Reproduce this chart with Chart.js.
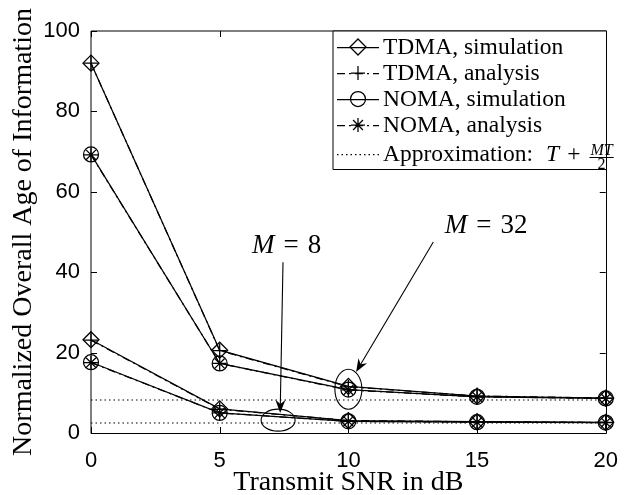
<!DOCTYPE html>
<html><head><meta charset="utf-8">
<script src="https://cdn.jsdelivr.net/npm/chart.js@4"></script>
<style>html,body{margin:0;padding:0;background:#fff}#wrap{width:633px;height:495px}</style>
</head><body><div id="wrap"><canvas id="c" width="633" height="495"></canvas></div>
<script>
// ---- data ----
const snrDb = [0, 5, 10, 15, 20];
const tdmaSimM32 = [92.0, 20.6, 11.6, 9.2, 8.7];
const tdmaAnaM32 = [92.0, 20.5, 11.5, 9.2, 8.7];
const nomaSimM32 = [69.3, 17.3, 10.8, 9.0, 8.6];
const nomaAnaM32 = [69.2, 17.3, 10.7, 9.0, 8.6];
const tdmaSimM8 = [23.2, 6.0, 3.1, 2.8, 2.65];
const tdmaAnaM8 = [23.1, 5.9, 3.1, 2.8, 2.65];
const nomaSimM8 = [17.6, 5.0, 2.9, 2.7, 2.6];
const nomaAnaM8 = [17.5, 5.0, 2.9, 2.7, 2.6];
const approxM32 = [8.2, 8.2, 8.2, 8.2, 8.2];
const approxM8 = [2.5, 2.5, 2.5, 2.5, 2.5];
const xTickValues = [0, 5, 10, 15, 20];
const yTickValues = [0, 20, 40, 60, 80, 100];
const legendLabels = ['TDMA, simulation', 'TDMA, analysis', 'NOMA, simulation', 'NOMA, analysis', 'Approximation:'];
const annotationLabels = [{m: 'M', rest: '8'}, {m: 'M', rest: '32'}];

const pts = arr => arr.map((v, i) => ({x: snrDb[i], y: v}));
const SERIF = '"Liberation Serif", "Times New Roman", serif';
const SANS = '"Liberation Sans", Arial, Helvetica, sans-serif';
const LW = 1.25;

function ds(label, arr, style, r, dash) {
  return {
    label, data: pts(arr), borderColor: '#000', borderWidth: style === false ? 1.1 : LW, borderDash: dash || [],
    pointStyle: style, pointRadius: style ? r : 0, pointBorderColor: '#000', pointBorderWidth: LW,
    pointBackgroundColor: 'rgba(0,0,0,0)', pointHoverRadius: r, fill: false, tension: 0, clip: false
  };
}
const dashDot = [8, 4, 2, 4];
const dotted = [1.5, 3];
const datasets = [
  ds('TDMA, simulation', tdmaSimM32, 'rectRot', 8),
  ds('TDMA, analysis', tdmaAnaM32, 'cross', 7, dashDot),
  ds('NOMA, simulation', nomaSimM32, 'circle', 7.5),
  ds('NOMA, analysis', nomaAnaM32, 'star', 7, dashDot),
  ds('TDMA, simulation', tdmaSimM8, 'rectRot', 8),
  ds('TDMA, analysis', tdmaAnaM8, 'cross', 7, dashDot),
  ds('NOMA, simulation', nomaSimM8, 'circle', 7.5),
  ds('NOMA, analysis', nomaAnaM8, 'star', 7, dashDot),
  ds('Approximation M=32', approxM32, false, 0, dotted),
  ds('Approximation M=8', approxM8, false, 0, dotted)
];

function marker(ctx, style, x, y, r) {
  ctx.save(); ctx.strokeStyle = '#000'; ctx.lineWidth = LW; ctx.setLineDash([]);
  ctx.beginPath();
  if (style === 'rectRot') { ctx.moveTo(x - r, y); ctx.lineTo(x, y - r); ctx.lineTo(x + r, y); ctx.lineTo(x, y + r); ctx.closePath(); }
  else if (style === 'circle') { ctx.arc(x, y, r, 0, 2 * Math.PI); }
  else if (style === 'cross') { ctx.moveTo(x - r, y); ctx.lineTo(x + r, y); ctx.moveTo(x, y - r); ctx.lineTo(x, y + r); }
  else if (style === 'star') {
    for (let k = 0; k < 4; k++) { const a = k * Math.PI / 4; ctx.moveTo(x - r * Math.cos(a), y - r * Math.sin(a)); ctx.lineTo(x + r * Math.cos(a), y + r * Math.sin(a)); }
  }
  ctx.stroke(); ctx.restore();
}

function arrow(ctx, x1, y1, x2, y2) {
  ctx.save(); ctx.strokeStyle = '#000'; ctx.fillStyle = '#000'; ctx.lineWidth = 1.1;
  const a = Math.atan2(y2 - y1, x2 - x1), L = 13, W = 5, N = 9;
  const bx = x2 - N * Math.cos(a), by = y2 - N * Math.sin(a);
  ctx.beginPath(); ctx.moveTo(x1, y1); ctx.lineTo(bx, by); ctx.stroke();
  const px = -Math.sin(a), py = Math.cos(a);
  const cx = x2 - L * Math.cos(a), cy = y2 - L * Math.sin(a);
  ctx.beginPath(); ctx.moveTo(x2, y2); ctx.lineTo(cx + W * px, cy + W * py); ctx.lineTo(bx, by); ctx.lineTo(cx - W * px, cy - W * py); ctx.closePath(); ctx.fill();
  ctx.restore();
}

function mathLabel(ctx, lab, cx, cy) {
  ctx.save(); ctx.fillStyle = '#000'; ctx.textBaseline = 'middle';
  const fi = 'italic 27px ' + SERIF, fr = '27px ' + SERIF;
  ctx.font = fi; const wM = ctx.measureText(lab.m).width;
  ctx.font = fr; const wEq = ctx.measureText('=').width, wR = ctx.measureText(lab.rest).width;
  const g = 9, total = wM + g + wEq + g + wR;
  let x = cx - total / 2;
  ctx.textAlign = 'left';
  ctx.font = fi; ctx.fillText(lab.m, x, cy); x += wM + g;
  ctx.font = fr; ctx.fillText('=', x, cy); x += wEq + g;
  ctx.fillText(lab.rest, x, cy);
  ctx.restore();
}

const decor = {
  id: 'decor',
  afterDraw(chart) {
    const ctx = chart.ctx, a = chart.chartArea, xs = chart.scales.x, ys = chart.scales.y;
    ctx.save();
    ctx.strokeStyle = '#000'; ctx.lineWidth = 1; ctx.setLineDash([]);
    // box (top/left soft, right/bottom crisp)
    ctx.beginPath();
    ctx.moveTo(Math.round(a.left), Math.round(a.bottom) + 0.5);
    ctx.lineTo(Math.round(a.left), Math.round(a.top));
    ctx.lineTo(Math.round(a.right) + 0.5, Math.round(a.top));
    ctx.lineTo(Math.round(a.right) + 0.5, Math.round(a.bottom) + 0.5);
    ctx.lineTo(Math.round(a.left), Math.round(a.bottom) + 0.5);
    ctx.stroke();
    // inward ticks
    const tl = 6;
    ctx.beginPath();
    xTickValues.forEach(v => {
      const px = Math.round(xs.getPixelForValue(v)) + 0.5;
      ctx.moveTo(px, a.bottom); ctx.lineTo(px, a.bottom - tl);
      ctx.moveTo(px, a.top); ctx.lineTo(px, a.top + tl);
    });
    yTickValues.forEach(v => {
      const py = Math.round(ys.getPixelForValue(v)) + 0.5;
      ctx.moveTo(a.left, py); ctx.lineTo(a.left + tl, py);
      ctx.moveTo(a.right, py); ctx.lineTo(a.right - tl, py);
    });
    ctx.stroke();

    // annotations (anchored in data space)
    const P = (x, y) => [xs.getPixelForValue(x), ys.getPixelForValue(y)];
    ctx.lineWidth = 1.1;
    let e = P(7.27, 3.2);
    ctx.beginPath(); ctx.ellipse(e[0], e[1], 17, 11, 0, 0, 2 * Math.PI); ctx.stroke();
    e = P(10.0, 10.9);
    ctx.beginPath(); ctx.ellipse(e[0], e[1], 13.5, 20, 0, 0, 2 * Math.PI); ctx.stroke();
    let s = P(7.46, 42.5), t = P(7.35, 5.0); arrow(ctx, s[0], s[1], t[0], t[1]);
    s = P(13.3, 47.5); t = P(10.3, 15.2); arrow(ctx, s[0], s[1], t[0], t[1]);
    let c = P(7.6, 46.5); mathLabel(ctx, annotationLabels[0], c[0], c[1]);
    c = P(15.35, 51.5); mathLabel(ctx, annotationLabels[1], c[0], c[1]);

    // legend
    ctx.lineWidth = 1;
    const L = 333, T = Math.round(a.top), R = Math.round(a.right), B = 169;
    ctx.fillStyle = '#fff'; ctx.fillRect(L, T, R - L, B - T);
    ctx.strokeStyle = '#000';
    ctx.beginPath();
    ctx.moveTo(L, B + 0.5); ctx.lineTo(L, T); ctx.lineTo(R + 0.5, T); ctx.lineTo(R + 0.5, B + 0.5); ctx.lineTo(L, B + 0.5);
    ctx.stroke();
    const rows = [47, 73, 99, 125, 154];
    const styles = [['rectRot', 8, []], ['cross', 7, dashDot], ['circle', 7.5, []], ['star', 7, dashDot], [null, 0, dotted]];
    const x0 = 337, x1 = 379, xm = 358, xt = 383;
    ctx.textBaseline = 'middle'; ctx.textAlign = 'left'; ctx.fillStyle = '#000';
    rows.forEach((y, i) => {
      ctx.save(); ctx.lineWidth = LW; ctx.setLineDash(styles[i][2]); ctx.beginPath();
      ctx.moveTo(x0, y + 0.5); ctx.lineTo(x1, y + 0.5); ctx.stroke(); ctx.restore();
      if (styles[i][0]) marker(ctx, styles[i][0], xm, y, styles[i][1]);
      ctx.font = '23.5px ' + SERIF;
      ctx.fillText(legendLabels[i], xt, y + 1);
    });
    // math part of approximation entry: T + MT/2
    const y5 = rows[4];
    ctx.font = '23.5px ' + SERIF;
    let x = xt + ctx.measureText(legendLabels[4]).width + 13;
    ctx.font = 'italic 23.5px ' + SERIF; ctx.fillText('T', x, y5 + 1); x += ctx.measureText('T').width + 8;
    ctx.font = '23.5px ' + SERIF; ctx.fillText('+', x, y5 + 1); x += ctx.measureText('+').width + 9;
    ctx.font = 'italic 16px ' + SERIF; const wn = ctx.measureText('MT').width;
    ctx.textBaseline = 'alphabetic';
    ctx.fillText('MT', x + 1, y5 + 1);
    ctx.beginPath(); ctx.moveTo(x, y5 + 3.5); ctx.lineTo(x + wn + 2, y5 + 3.5); ctx.stroke();
    ctx.font = '16px ' + SERIF; ctx.textAlign = 'center';
    ctx.fillText('2', x + 1 + wn / 2, y5 + 15);
    ctx.restore();
  }
};

new Chart(document.getElementById('c'), {
  type: 'line',
  data: {datasets},
  options: {
    responsive: false, animation: false, devicePixelRatio: 1,
    layout: {padding: {left: 0, right: 13, top: 31, bottom: 0}},
    plugins: {legend: {display: false}, tooltip: {enabled: false}},
    elements: {line: {tension: 0}},
    scales: {
      x: {
        type: 'linear', min: 0, max: 20,
        afterBuildTicks: s => { s.ticks = xTickValues.map(v => ({value: v})); },
        afterFit: s => { s.height = 62; },
        grid: {display: false, drawTicks: false}, border: {display: false},
        ticks: {color: '#000', padding: 15, font: {family: SANS, size: 22}, maxRotation: 0},
        title: {display: true, text: 'Transmit SNR in dB', color: '#000', font: {family: SERIF, size: 28, lineHeight: 0.9}, padding: 0}
      },
      y: {
        type: 'linear', min: 0, max: 100,
        afterBuildTicks: s => { s.ticks = yTickValues.map(v => ({value: v})); },
        afterFit: s => { s.width = 91; },
        grid: {display: false, drawTicks: false}, border: {display: false},
        ticks: {color: '#000', padding: 11, font: {family: SANS, size: 22}},
        title: {display: true, text: 'Normalized Overall Age of Information', color: '#000', font: {family: SERIF, size: 28, lineHeight: 1}, padding: {top: 9.5, bottom: 0}}
      }
    }
  },
  plugins: [decor]
});
</script>
</body></html>
